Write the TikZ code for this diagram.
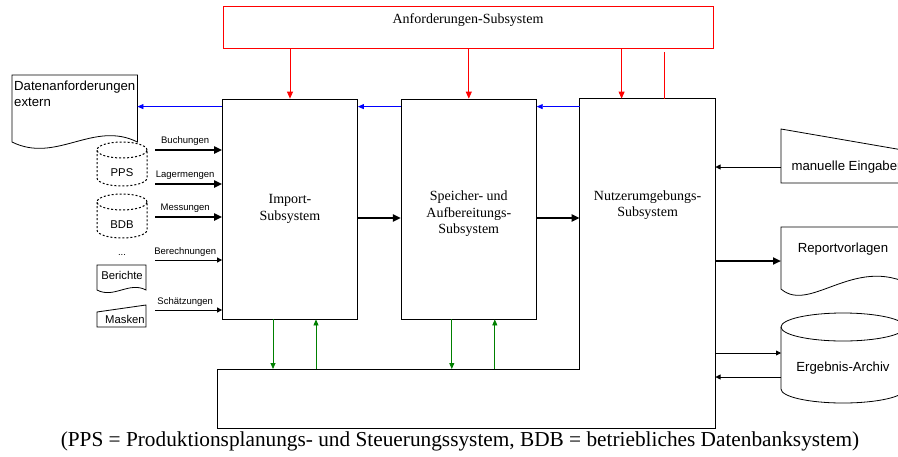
\documentclass[tikz,border=0pt]{standalone}
\usepackage{fontspec}
\setmainfont{Liberation Serif}
\setsansfont{Liberation Sans}
\usetikzlibrary{shapes,arrows.meta,positioning,calc}

\begin{document}
\begin{tikzpicture}[x=1pt, y=-1pt,
    subsys/.style={rectangle, draw, line width=0.8pt, minimum width=135pt, minimum height=220pt, align=center, font=\fontsize{14}{16.5}\selectfont},
    subtext/.style={align=center, font=\fontsize{14}{16.5}\selectfont},
    srcfont/.style={font=\sffamily\fontsize{9.5}{11}\selectfont},
    midfont/.style={font=\sffamily\fontsize{11.3}{13}\selectfont},
    extfont/.style={font=\sffamily\fontsize{13.2}{16}\selectfont},
    shapeline/.style={line width=0.8pt},
    dashline/.style={line width=1pt, dash pattern=on 2pt off 2pt},
    thickarr/.style={line width=2pt, -{Triangle[length=8pt,width=7pt]}},
    thinarr/.style={line width=0.8pt, -{Triangle[length=5pt,width=5pt]}},
    redarr/.style={red, line width=0.8pt, -{Triangle[length=7pt,width=6pt]}},
    bluearr/.style={blue, line width=0.8pt, -{Triangle[length=6pt,width=5pt]}},
    greenarr/.style={green!50!black, line width=0.8pt, -{Triangle[length=6pt,width=5pt]}}]
    \useasboundingbox (0,0) rectangle (898,456);

    % subsystems
    \node (anf) [rectangle, draw=red, line width=0.8pt, minimum width=490pt, minimum height=42pt,
        label={[subtext, yshift=7pt]center:Anforderungen-Subsystem}] at (468,27) {};
    \node (imp) [subsys] at (290,209) {Import-\\Subsystem};
    \node (spe) [subsys, right=43pt of imp, label={[subtext, yshift=-5pt]center:Speicher- und\\Aufbereitungs-\\Subsystem}] {};
    \node (nutz) [subsys, draw=none, right=43pt of spe, label={[subtext, yshift=4pt]center:Nutzerumgebungs-\\Subsystem}] {};
    \coordinate (ftl) at (217,369);
    \coordinate (fbl) at (217,428);
    \draw[line width=0.8pt] (nutz.north west) -- (nutz.north east) -- (nutz.east |- fbl) -- (fbl) -- (ftl) -- (nutz.west |- ftl) -- cycle;

    % external sources
    \node (dat) [extfont, anchor=north west, text width=121pt, align=left, inner xsep=2pt, inner ysep=6pt] at (12,75) {Datenanforderungen\\extern};
    \draw[shapeline] (dat.north west) -- (dat.north east) -- ($(dat.north east)+(0,67)$) coordinate (dr)
        .. controls ($(dr)+(-44,-22)$) and ($(dr)+(-81,22)$) .. ($(dat.north west)+(0,67)$) -- cycle;
    \foreach \n/\y/\lab in {pps/173/PPS, bdb/225/BDB} {
        \node (\n) [midfont] at (122,\y) {\lab};
        \draw[dashline] ($(\n)+(-25,-23)$) coordinate (\n top) -- ++(0,28)
            arc[start angle=180, end angle=360, x radius=25pt, y radius=8pt] -- ++(0,-28);
        \draw[dashline] ($(\n top)+(25,0)$) ellipse[x radius=25pt, y radius=8pt];
    }
    \node (dots) [srcfont] at (122,255) {...};
    \node (ber) [midfont] at (122,275) {Berichte};
    \draw[shapeline] ($(ber)+(-25,-10)$) -- ($(ber)+(24,-10)$) -- ($(ber)+(24,15)$) coordinate (br)
        .. controls ($(br)+(-17,-9)$) and ($(br)+(-32,9)$) .. ($(ber)+(-25,15)$) -- cycle;
    \node (mask) [midfont] at (125,319) {Masken};
    \draw[shapeline] ($(mask)+(-28,-7)$) -- ($(mask)+(21,-14)$) -- ($(mask)+(21,8)$) -- ($(mask)+(-28,8)$) -- cycle;

    \foreach \y/\lab/\sty in {150/Buchungen/thickarr, 184/Lagermengen/thickarr, 217/Messungen/thickarr,
        260/Berechnungen/thinarr, 310/Schätzungen/thinarr} {
        \coordinate (src) at (155,\y);
        \draw[\sty] (src) -- (src -| imp.west) node[pos=0.45, above=0pt, srcfont] {\lab};
    }

    % external targets
    \node (man) [extfont, anchor=west] at (788,167) {manuelle Eingaben};
    \draw[shapeline] ($(man.west)+(-7,-38)$) -- ($(man.west)+(132,-14)$) -- ($(man.west)+(132,16)$) -- ($(man.west)+(-7,16)$) -- cycle;
    \draw[thinarr] ($(man.west)+(-7,0)$) -- (nutz.east |- man.west);

    \node (rep) [extfont] at (843,249) {Reportvorlagen};
    \draw[shapeline] ($(rep)+(-62,-22)$) -- ($(rep)+(75,-22)$) -- ($(rep)+(75,40)$) coordinate (rr)
        .. controls ($(rr)+(-60,-39)$) and ($(rr)+(-107,26)$) .. ($(rep)+(-62,40)$) -- cycle;
    \coordinate (repin) at ($(rep)+(-62,12)$);
    \draw[thickarr] (nutz.east |- repin) -- (repin);

    \node (arc) [extfont] at (843,368) {Ergebnis-Archiv};
    \draw[shapeline] ($(arc)+(-62,-41)$) coordinate (ctl) -- ++(0,62)
        arc[start angle=180, end angle=360, x radius=62pt, y radius=14pt] -- ++(0,-62);
    \draw[shapeline] ($(ctl)+(62,0)$) ellipse[x radius=62pt, y radius=14pt];
    \coordinate (a1) at ($(ctl)+(0,26)$);
    \coordinate (a2) at ($(ctl)+(0,50)$);
    \draw[thinarr] (nutz.east |- a1) -- (a1);
    \draw[thinarr] (a2) -- (nutz.east |- a2);

    % control and data flows
    \foreach \n/\dx in {imp/0, spe/0, nutz/-26}
        \draw[redarr] ($(\n.north |- anf.south)+(\dx,0)$) -- ($(\n.north)+(\dx,0)$);
    \draw[red, line width=0.8pt] ($(nutz.north)+(17,0)$) -- ($(nutz.north |- anf.south)+(17,4)$);

    \draw[bluearr] ($(imp.north west)+(0,8)$) coordinate (bl) -- (bl -| dat.east);
    \draw[bluearr] ($(spe.north west)+(0,8)$) -- ($(imp.north east)+(0,8)$);
    \draw[bluearr] ($(nutz.north west)+(0,8)$) -- ($(spe.north east)+(0,8)$);

    \draw[thickarr] ($(imp.east)+(0,9)$) -- ($(spe.west)+(0,9)$);
    \draw[thickarr] ($(spe.east)+(0,9)$) -- ($(nutz.west)+(0,9)$);

    \foreach \n in {imp, spe} {
        \draw[greenarr] ($(\n.south)+(-17,0)$) -- ($(\n.south |- ftl)+(-17,0)$);
        \draw[greenarr] ($(\n.south |- ftl)+(26,0)$) -- ($(\n.south)+(26,0)$);
    }

    \node (cap) [font=\fontsize{21.3}{24}\selectfont] at (460,441) {(PPS = Produktionsplanungs- und Steuerungssystem, BDB = betriebliches Datenbanksystem)};
\end{tikzpicture}
\end{document}
